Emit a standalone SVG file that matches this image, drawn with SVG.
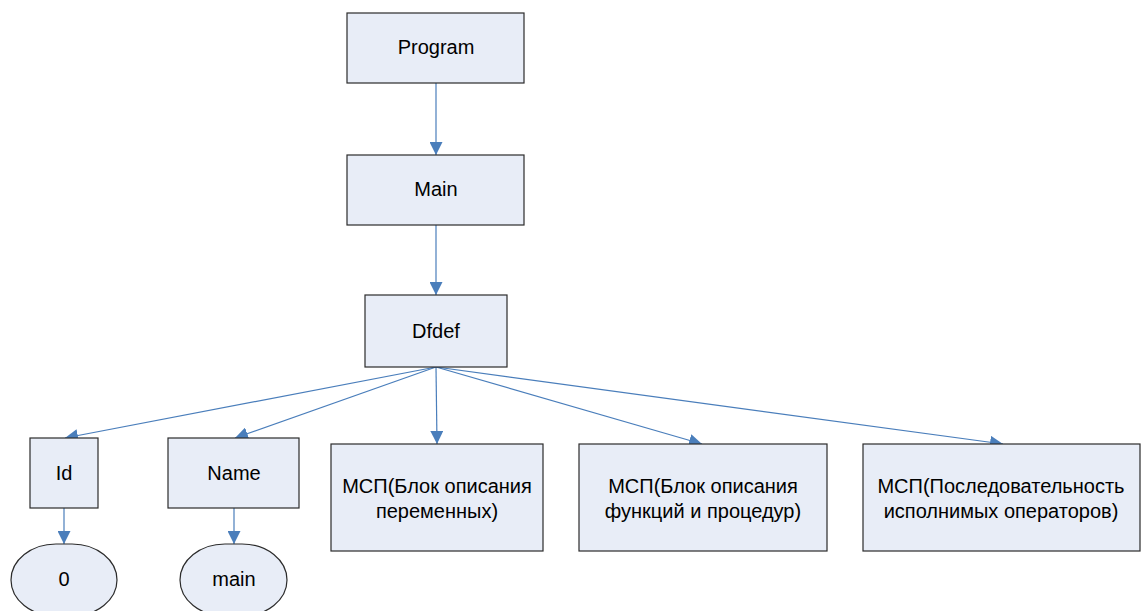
<svg xmlns="http://www.w3.org/2000/svg" width="1141" height="611" viewBox="0 0 1141 611">
<style>
.box{fill:#e8edf7;stroke:#2b2b2b;stroke-width:1.2}
.t{font-family:"Liberation Sans",Arial,sans-serif;font-size:20px;fill:#000;text-anchor:middle}
.c{stroke:#4a7ebb;stroke-width:1.2;fill:none;marker-end:url(#ah)}
</style>
<defs>
<marker id="ah" viewBox="0 0 10 10" refX="10" refY="5" markerWidth="13" markerHeight="13" markerUnits="userSpaceOnUse" orient="auto">
<path d="M0,0 L10,5 L0,10 z" fill="#4a7ebb"/>
</marker>
</defs>
<rect width="1141" height="611" fill="#fff"/>
<g id="connectors">
<line class="c" x1="436" y1="83" x2="436" y2="155"/>
<line class="c" x1="436" y1="225" x2="436" y2="295"/>
<line class="c" x1="436" y1="367" x2="65" y2="438"/>
<line class="c" x1="436" y1="367" x2="235" y2="438"/>
<line class="c" x1="436" y1="367" x2="437" y2="444"/>
<line class="c" x1="436" y1="367" x2="702" y2="444"/>
<line class="c" x1="436" y1="367" x2="1003" y2="444"/>
<line class="c" x1="64" y1="508" x2="64" y2="544"/>
<line class="c" x1="234" y1="508" x2="234" y2="544"/>
</g>
<g id="program"><rect class="box" x="347" y="13" width="177" height="70"/><text class="t" x="436" y="54">Program</text></g>
<g id="main"><rect class="box" x="347" y="155" width="177" height="70"/><text class="t" x="436" y="196">Main</text></g>
<g id="dfdef"><rect class="box" x="365" y="295" width="142" height="72"/><text class="t" x="436" y="338">Dfdef</text></g>
<g id="id"><rect class="box" x="30" y="438" width="68" height="70"/><text class="t" x="64" y="480">Id</text></g>
<g id="name"><rect class="box" x="168" y="438" width="131" height="70"/><text class="t" x="234" y="480">Name</text></g>
<g id="zero"><rect class="box" x="11" y="544" width="106" height="72" rx="45" ry="36"/><text class="t" x="64" y="586">0</text></g>
<g id="mainval"><rect class="box" x="180" y="544" width="107" height="72" rx="45" ry="36"/><text class="t" x="234" y="586">main</text></g>
<g id="msp1"><rect class="box" x="331" y="444" width="212" height="107"/><text class="t" x="437" y="493">МСП(Блок описания</text><text class="t" x="437" y="518">переменных)</text></g>
<g id="msp2"><rect class="box" x="579" y="444" width="248" height="107"/><text class="t" x="703" y="493">МСП(Блок описания</text><text class="t" x="703" y="518">функций и процедур)</text></g>
<g id="msp3"><rect class="box" x="863" y="444" width="277" height="107"/><text class="t" x="1001" y="493">МСП(Последовательность</text><text class="t" x="1001" y="518">исполнимых операторов)</text></g>
</svg>
